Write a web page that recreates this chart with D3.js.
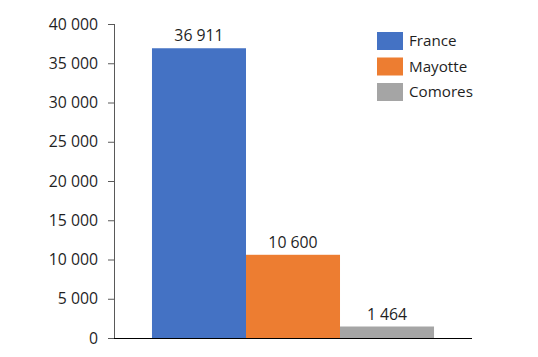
<!DOCTYPE html>
<html><head><meta charset="utf-8">
<script src="https://cdn.jsdelivr.net/npm/d3@7"></script>
<style>
html,body{margin:0;padding:0;background:#fff;}
text{font-family:"Open Sans",sans-serif;}
</style></head>
<body><svg id="c" width="538" height="357"></svg>
<script>
const categories = ["France", "Mayotte", "Comores"];
const values = [36911, 10600, 1464];
const colors = ["#4472C4", "#ED7D31", "#A5A5A5"];
const yTicks = [0, 5000, 10000, 15000, 20000, 25000, 30000, 35000, 40000];

(function () {
const svg = d3.select("#c");
const mLeft = 114, mRight = 472, mTop = 24, mBottom = 338;
const loc = d3.formatLocale({thousands: " ", grouping: [3], decimal: ",", currency: ["", ""]});
const fmt = loc.format(",d");

const x = d3.scaleBand().domain(categories).range([mLeft, mRight]).paddingInner(0).paddingOuter(0.404);
const y = d3.scaleLinear().domain([0, 40000]).range([mBottom, mTop]);

// y axis
const ya = svg.append("g").attr("transform", `translate(${mLeft},0)`)
  .call(d3.axisLeft(y).tickValues(yTicks).tickFormat(fmt).tickSize(6).tickPadding(10));
ya.select(".domain").attr("stroke", "#595959").attr("d", `M0.5,${mTop}V${mBottom}`);
ya.selectAll(".tick line").attr("stroke", "#595959");
ya.selectAll(".tick text").attr("fill", "#1f1f1f").style("font-size", "15.8px").style("font-family", "'Open Sans',sans-serif");

// bars
svg.append("g").selectAll("rect").data(values).join("rect")
  .attr("x", (d, i) => x(categories[i]))
  .attr("y", d => y(d))
  .attr("width", x.bandwidth())
  .attr("height", d => y(0) - y(d))
  .attr("fill", (d, i) => colors[i]);

// baseline
svg.append("line").attr("x1", mLeft).attr("x2", mRight).attr("y1", y(0) + 0.5).attr("y2", y(0) + 0.5)
  .attr("stroke", "#000").attr("stroke-width", 1);

// data labels
svg.append("g").selectAll("text").data(values).join("text")
  .attr("x", (d, i) => x(categories[i]) + x.bandwidth() / 2)
  .attr("y", d => y(d) - 7)
  .attr("text-anchor", "middle")
  .attr("fill", "#1f1f1f")
  .style("font-size", "15.8px")
  .text(d => fmt(d));

// legend
const lg = svg.append("g").attr("transform", "translate(377,32)");
const items = lg.selectAll("g").data(categories).join("g")
  .attr("transform", (d, i) => `translate(0,${i * 25.5})`);
items.append("rect").attr("width", 26).attr("height", 18).attr("fill", (d, i) => colors[i]);
items.append("text").attr("x", 32).attr("y", 9).attr("dy", "0.35em")
  .attr("fill", "#1f1f1f").style("font-size", "15.2px").text(d => d);
})();
</script>
</body></html>
